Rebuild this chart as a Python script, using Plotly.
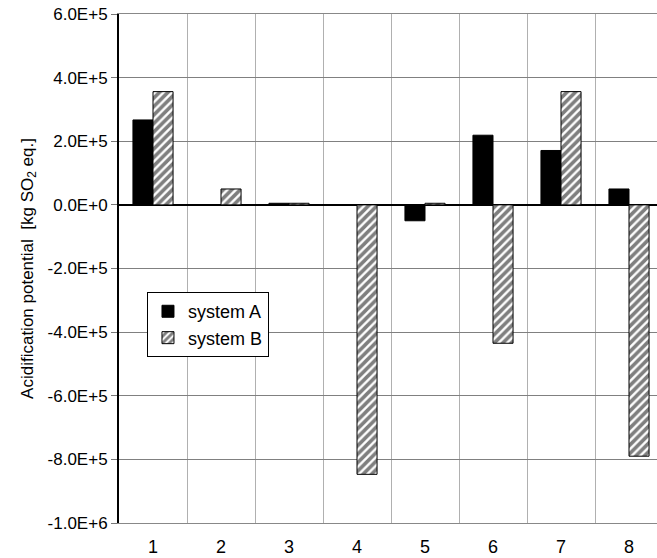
import plotly.graph_objects as go

categories = [1, 2, 3, 4, 5, 6, 7, 8]
system_a = [2.67e5, 0, 5e3, 0, -5e4, 2.19e5, 1.71e5, 5e4]
system_b = [3.56e5, 5e4, 5e3, -8.47e5, 5e3, -4.35e5, 3.56e5, -7.9e5]
y_tick_vals = [6e5, 4e5, 2e5, 0, -2e5, -4e5, -6e5, -8e5, -1e6]
y_tick_text = ["6.0E+5", "4.0E+5", "2.0E+5", "0.0E+0", "-2.0E+5", "-4.0E+5",
               "-6.0E+5", "-8.0E+5", "-1.0E+6"]

FONT = "Liberation Sans, Arial, sans-serif"

fig = go.Figure()
fig.add_trace(go.Bar(
    x=categories, y=system_a, name="system A",
    marker=dict(color="black", line=dict(color="black", width=1)),
))
fig.add_trace(go.Bar(
    x=categories, y=system_b, name="system B",
    marker=dict(color="white", line=dict(color="black", width=1),
                pattern=dict(shape="/", fgcolor="black", bgcolor="white",
                             size=6, solidity=0.6)),
))

W, H = 657, 558
L, T, B = 119, 14, 35
plot_w = W - L

fig.update_layout(
    width=W, height=H,
    margin=dict(l=L, r=0, t=T, b=B, autoexpand=False),
    paper_bgcolor="white", plot_bgcolor="white",
    barmode="group", bargap=0.41, bargroupgap=0,
    font=dict(family=FONT, size=17, color="black"),
    showlegend=True,
    legend=dict(x=0.052, y=0.326, xanchor="left", yanchor="bottom",
                bgcolor="white", bordercolor="black", borderwidth=1,
                font=dict(family=FONT, size=18, color="black"),
                itemwidth=30, tracegroupgap=0),
)

fig.update_xaxes(
    range=[0.5, 0.5 + plot_w / 68.0],
    tickvals=categories, ticktext=[str(c) for c in categories],
    tickfont=dict(family=FONT, size=18),
    showgrid=False, zeroline=False,
    showline=True, linecolor="#888888", linewidth=1, mirror=True,
    ticks="", ticklabelstandoff=7,
    minor=dict(tick0=0.5, dtick=1, showgrid=True, gridcolor="#b0b0b0",
               gridwidth=1, ticks=""),
)
fig.update_yaxes(
    range=[-1e6, 6e5],
    tickvals=y_tick_vals, ticktext=y_tick_text,
    tickfont=dict(family=FONT, size=17),
    ticklabeloverflow="allow",
    showgrid=True, gridcolor="#808080", gridwidth=1,
    zeroline=True, zerolinecolor="black", zerolinewidth=2,
    showline=True, linecolor="black", linewidth=2,
    ticks="outside", ticklen=6, tickcolor="#777777", tickwidth=1,
    automargin=False,
    title=dict(text="Acidification potential  [kg SO<sub>2</sub> eq.]",
               font=dict(family=FONT, size=17), standoff=10),
)

# remove the default 8px page margin so the figure fills the window exactly
fig.write_html("out.html",
               config={"displayModeBar": False},
               post_script="document.body.style.margin='0px';")
